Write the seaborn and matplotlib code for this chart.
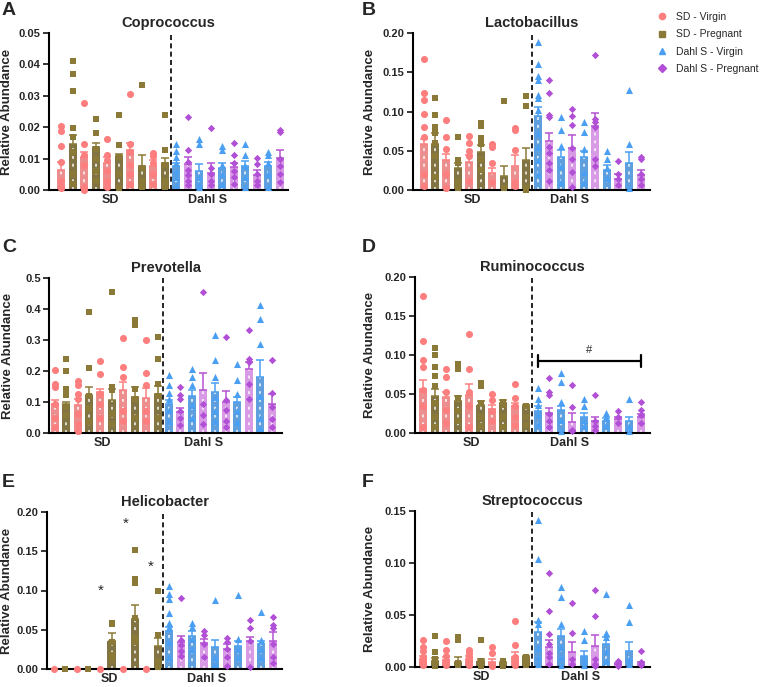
import matplotlib
matplotlib.use("Agg")
import matplotlib.pyplot as plt
from matplotlib.lines import Line2D
import numpy as np
import pandas as pd
import seaborn as sns

# groups / colours
groups = ["SD - Virgin", "SD - Pregnant", "Dahl S - Virgin", "Dahl S - Pregnant"]
bar_groups = [groups[0], groups[1]] * 5 + [groups[2], groups[3]] * 5
group_labels = ["SD", "Dahl S"]

# Coprococcus
cop_mean = [0.0064, 0.0147, 0.0106, 0.0138, 0.0085, 0.0108, 0.0126, 0.0078, 0.0078, 0.0087,
            0.0075, 0.0083, 0.0060, 0.0053, 0.0071, 0.0074, 0.0078, 0.0048, 0.0077, 0.0103]
cop_sem = [0.0025, 0.0028, 0.0016, 0.0011, 0.0021, 0.0006, 0.0023, 0.0034, 0.0018, 0.0014,
           0.0010, 0.0023, 0.0022, 0.0032, 0.0014, 0.0012, 0.0014, 0.0015, 0.0012, 0.0023]
cop_pts = [
    [0.0204, 0.0188, 0.014, 0.009, 0.003, 0.001, 0.0005],
    [0.041, 0.037, 0.0314, 0.0197, 0.017, 0.012, 0.005, 0.002],
    [0.0277, 0.0145, 0.011, 0.008, 0.001, 0.0],
    [0.0225, 0.0183, 0.013, 0.01, 0.006, 0.003],
    [0.0163, 0.011, 0.0096, 0.006, 0.003, 0.001],
    [0.0238, 0.0142, 0.0105, 0.005, 0.0005],
    [0.0306, 0.0148, 0.012, 0.008, 0.005, 0.002],
    [0.0335, 0.007, 0.003, 0.001],
    [0.0119, 0.0108, 0.0085, 0.005, 0.002],
    [0.024, 0.0128, 0.008, 0.003, 0.001],
    [0.0146, 0.0124, 0.0106, 0.0085, 0.006, 0.004, 0.0015],
    [0.0232, 0.0128, 0.009, 0.0065, 0.0048, 0.003, 0.0015],
    [0.0162, 0.0147, 0.004, 0.002, 0.001],
    [0.0196, 0.007, 0.005, 0.003, 0.0015],
    [0.0141, 0.0128, 0.008, 0.005, 0.002],
    [0.0149, 0.0112, 0.0085, 0.006, 0.004, 0.002],
    [0.0148, 0.011, 0.0075, 0.004, 0.001],
    [0.0103, 0.0083, 0.005, 0.003, 0.0015],
    [0.0122, 0.0113, 0.0085, 0.005, 0.001],
    [0.019, 0.0184, 0.01, 0.0075, 0.005, 0.0025],
]

# Lactobacillus
lac_mean = [0.0587, 0.059, 0.038, 0.028, 0.036, 0.049, 0.022, 0.018, 0.031, 0.038,
            0.094, 0.062, 0.0425, 0.054, 0.042, 0.081, 0.026, 0.0145, 0.035, 0.019]
lac_sem = [0.006, 0.013, 0.008, 0.007, 0.009, 0.008, 0.006, 0.013, 0.013, 0.016,
           0.012, 0.010, 0.009, 0.016, 0.008, 0.017, 0.006, 0.0055, 0.014, 0.006]
lac_pts = [
    [0.167, 0.123, 0.115, 0.097, 0.08, 0.067, 0.02, 0.005],
    [0.117, 0.096, 0.08, 0.072, 0.06, 0.043, 0.017],
    [0.089, 0.067, 0.052, 0.02, 0.003],
    [0.067, 0.038, 0.035, 0.01, 0.002],
    [0.069, 0.06, 0.05, 0.043, 0.012],
    [0.085, 0.081, 0.066, 0.059, 0.04, 0.025],
    [0.058, 0.055, 0.035, 0.01],
    [0.113, 0.003, 0.002],
    [0.079, 0.077, 0.051, 0.01, 0.005],
    [0.12, 0.107, 0.002, 0.0],
    [0.188, 0.16, 0.145, 0.14, 0.121, 0.117, 0.102, 0.072, 0.055, 0.038, 0.02],
    [0.14, 0.123, 0.096, 0.093, 0.055, 0.047, 0.035, 0.025, 0.011],
    [0.093, 0.076, 0.056, 0.03, 0.01],
    [0.103, 0.094, 0.083, 0.054, 0.04, 0.023, 0.004],
    [0.086, 0.074, 0.052, 0.023, 0.01],
    [0.172, 0.091, 0.086, 0.08, 0.04, 0.03],
    [0.05, 0.039, 0.028, 0.015],
    [0.037, 0.02, 0.014, 0.006],
    [0.127, 0.059, 0.002],
    [0.042, 0.039, 0.02, 0.014, 0.006],
]

# Prevotella
pre_mean = [0.095, 0.095, 0.09, 0.122, 0.133, 0.108, 0.138, 0.116, 0.114, 0.125,
            0.095, 0.068, 0.118, 0.14, 0.133, 0.1, 0.1, 0.208, 0.18, 0.092]
pre_sem = [0.012, 0.006, 0.02, 0.026, 0.008, 0.035, 0.027, 0.032, 0.03, 0.027,
           0.01, 0.014, 0.02, 0.055, 0.027, 0.037, 0.015, 0.021, 0.055, 0.035]
pre_pts = [
    [0.204, 0.159, 0.15, 0.095, 0.05, 0.02],
    [0.24, 0.2, 0.143, 0.121, 0.085, 0.057],
    [0.168, 0.154, 0.127, 0.11, 0.06, 0.03, 0.005],
    [0.389, 0.21, 0.12, 0.08, 0.035],
    [0.231, 0.189, 0.127, 0.095, 0.05],
    [0.455, 0.148, 0.14, 0.06, 0.03],
    [0.305, 0.213, 0.181, 0.07, 0.04],
    [0.363, 0.348, 0.143, 0.11, 0.05],
    [0.301, 0.193, 0.154, 0.07, 0.04],
    [0.309, 0.239, 0.159, 0.12, 0.05],
    [0.186, 0.155, 0.13, 0.11, 0.075, 0.04],
    [0.149, 0.122, 0.11, 0.07, 0.05, 0.025],
    [0.208, 0.18, 0.154, 0.09, 0.05],
    [0.456, 0.095, 0.057, 0.03],
    [0.316, 0.236, 0.18, 0.115, 0.07, 0.04],
    [0.31, 0.105, 0.075, 0.04, 0.02],
    [0.222, 0.17, 0.125, 0.07, 0.035],
    [0.331, 0.24, 0.229, 0.157, 0.11],
    [0.413, 0.369, 0.286, 0.12, 0.05, 0.015],
    [0.236, 0.13, 0.085, 0.045, 0.02],
]

# Ruminococcus
rum_mean = [0.056, 0.047, 0.046, 0.041, 0.049, 0.036, 0.031, 0.038, 0.034, 0.034,
            0.028, 0.026, 0.029, 0.0137, 0.021, 0.016, 0.016, 0.018, 0.016, 0.021]
rum_sem = [0.012, 0.009, 0.006, 0.006, 0.014, 0.005, 0.005, 0.004, 0.005, 0.002,
           0.006, 0.006, 0.006, 0.012, 0.005, 0.005, 0.003, 0.003, 0.004, 0.004]
rum_pts = [
    [0.176, 0.118, 0.093, 0.084, 0.055, 0.035, 0.008],
    [0.109, 0.1, 0.085, 0.073, 0.06, 0.038, 0.02, 0.008],
    [0.082, 0.072, 0.052, 0.03, 0.013],
    [0.089, 0.082, 0.045, 0.028, 0.015],
    [0.127, 0.082, 0.053, 0.035, 0.008],
    [0.064, 0.06, 0.038, 0.021, 0.009],
    [0.05, 0.042, 0.028, 0.015],
    [0.04, 0.036, 0.02, 0.008],
    [0.063, 0.045, 0.035, 0.02, 0.01],
    [0.035, 0.034, 0.02, 0.01],
    [0.058, 0.043, 0.036, 0.025, 0.012],
    [0.07, 0.053, 0.049, 0.025, 0.015, 0.008],
    [0.077, 0.066, 0.04, 0.017, 0.002],
    [0.062, 0.033, 0.004, 0.002],
    [0.043, 0.034, 0.017, 0.009],
    [0.049, 0.015, 0.009, 0.004],
    [0.026, 0.021, 0.01],
    [0.028, 0.02, 0.013],
    [0.043, 0.009, 0.002],
    [0.04, 0.03, 0.023, 0.013],
]

# Helicobacter
hel_mean = [0, 0, 0, 0, 0, 0.036, 0, 0.064, 0, 0.029,
            0.048, 0.034, 0.042, 0.033, 0.028, 0.025, 0.029, 0.036, 0.032, 0.036]
hel_sem = [0, 0, 0, 0, 0, 0.010, 0, 0.018, 0, 0.010,
           0.006, 0.008, 0.006, 0.005, 0.009, 0.007, 0.007, 0.005, 0.004, 0.011]
hel_pts = [
    [0.0], [0.0], [0.0], [0.0], [0.0],
    [0.059, 0.057, 0.034, 0.018, 0.012],
    [0.0],
    [0.151, 0.115, 0.11, 0.065, 0.04, 0.035],
    [0.0],
    [0.099, 0.043, 0.01, 0.002],
    [0.106, 0.095, 0.089, 0.071, 0.058, 0.053, 0.034, 0.015],
    [0.091, 0.037, 0.03, 0.023, 0.017],
    [0.059, 0.053, 0.038, 0.025],
    [0.048, 0.043, 0.032, 0.015],
    [0.088, 0.015, 0.007],
    [0.04, 0.034, 0.025, 0.015, 0.004],
    [0.094, 0.038, 0.025, 0.015],
    [0.062, 0.052, 0.036, 0.002],
    [0.073, 0.037, 0.025, 0.015],
    [0.066, 0.056, 0.052, 0.032, 0.015, 0.008],
]
hel_stars_x = [4.1, 6.2, 8.4]
hel_stars_y = [0.10, 0.185, 0.13]

# Streptococcus
str_mean = [0.008, 0.0058, 0.0064, 0.005, 0.008, 0.0058, 0.0048, 0.004, 0.0096, 0.0096,
            0.034, 0.019, 0.03, 0.0145, 0.0106, 0.02, 0.022, 0.003, 0.0155, 0.003]
str_sem = [0.003, 0.003, 0.003, 0.0046, 0.003, 0.002, 0.0032, 0.001, 0.0044, 0.001,
           0.009, 0.007, 0.007, 0.0095, 0.005, 0.011, 0.007, 0.001, 0.0085, 0.002]
str_pts = [
    [0.026, 0.019, 0.015, 0.01, 0.005, 0.002],
    [0.03, 0.014, 0.008, 0.003, 0.001],
    [0.025, 0.016, 0.011, 0.006, 0.002],
    [0.029, 0.026, 0.004, 0.002],
    [0.016, 0.013, 0.01, 0.006, 0.002],
    [0.026, 0.006, 0.003, 0.001],
    [0.019, 0.013, 0.003, 0.001],
    [0.006, 0.003, 0.001],
    [0.044, 0.021, 0.01, 0.005, 0.002],
    [0.01, 0.007, 0.002],
    [0.141, 0.104, 0.045, 0.041, 0.018, 0.01, 0.003],
    [0.09, 0.054, 0.032, 0.022, 0.013, 0.01, 0.003],
    [0.077, 0.067, 0.041, 0.019, 0.01, 0.002],
    [0.062, 0.033, 0.008, 0.003],
    [0.035, 0.026, 0.01, 0.005, 0.002],
    [0.074, 0.049, 0.008, 0.003, 0.001],
    [0.07, 0.033, 0.029, 0.015, 0.006],
    [0.006, 0.003, 0.001],
    [0.06, 0.043, 0.008, 0.003],
    [0.015, 0.005, 0.002],
]

sns.set_style("white")
plt.rcParams['font.family'] = ['Liberation Sans', 'DejaVu Sans']

bar_colors = {"SD - Virgin": "#FC7E7E", "SD - Pregnant": "#8B7A37",
              "Dahl S - Virgin": "#4A9FF2", "Dahl S - Pregnant": "#E08DF2"}
err_colors = {"SD - Virgin": "#FC7E7E", "SD - Pregnant": "#8B7A37",
              "Dahl S - Virgin": "#4A9FF2", "Dahl S - Pregnant": "#B452D2"}
dot_colors = {"SD - Virgin": "#FC7E7E", "SD - Pregnant": "#8B7A37",
              "Dahl S - Virgin": "#4A9FF2", "Dahl S - Pregnant": "#B150D6"}
markers = {"SD - Virgin": "o", "SD - Pregnant": "s",
           "Dahl S - Virgin": "^", "Dahl S - Pregnant": "D"}
msize = {"SD - Virgin": 26, "SD - Pregnant": 22,
         "Dahl S - Virgin": 26, "Dahl S - Pregnant": 14}

W, H = 760, 687
fig = plt.figure(figsize=(W / 100, H / 100), dpi=100)


def px_axes(l, t, r, b):
    return fig.add_axes([l / W, 1 - b / H, (r - l) / W, (b - t) / H])


def panel(box, title, means, sems, pts, ymax, ystep, fmt, xlim, lab_x, ylab_px):
    ax = px_axes(*box)
    bars = pd.DataFrame({"pos": np.arange(20), "mean": means, "group": bar_groups})
    sns.barplot(data=bars, x="pos", y="mean", hue="group", palette=bar_colors,
                native_scale=True, dodge=False, width=0.7, errorbar=None,
                legend=False, linewidth=0, ax=ax, zorder=1)
    # faint white dashes in the middle of each bar
    ax.vlines(bars["pos"], 0, bars["mean"], colors="white", lw=1.4,
              linestyles=(0, (1.5, 2.5)), alpha=0.75, zorder=1.5)
    for i in range(20):
        if sems[i] > 0:
            ax.errorbar(i, means[i], yerr=[[0], [sems[i]]], fmt="none",
                        ecolor=err_colors[bar_groups[i]], elinewidth=1.1,
                        capsize=2.6, capthick=1.1, zorder=2)
    rows = [(i, v, bar_groups[i]) for i in range(20) for v in pts[i]]
    dots = pd.DataFrame(rows, columns=["pos", "val", "group"])
    for g in groups:
        sub = dots[dots["group"] == g]
        sns.scatterplot(data=sub, x="pos", y="val", color=dot_colors[g],
                        marker=markers[g], s=msize[g], linewidth=0, ax=ax,
                        zorder=3, legend=False)
    for c in ax.collections:
        c.set_clip_on(False)
    ax.axvline(9.5, color="black", ls=(0, (3, 2)), lw=1.2, zorder=4)
    ax.set_xlim(*xlim)
    ax.set_ylim(0, ymax)
    ticks = np.arange(0, ymax + ystep / 2, ystep)
    ax.set_yticks(ticks)
    ax.set_yticklabels([fmt.format(t) for t in ticks], fontweight="bold", fontsize=8)
    ax.set_xticks(lab_x)
    ax.set_xticklabels(group_labels, fontweight="bold", fontsize=9)
    ax.tick_params(axis="x", length=0, pad=3)
    ax.tick_params(axis="y", length=4, width=1.3, pad=2, direction="out", left=True)
    ax.set_xlabel("")
    ax.set_ylabel("Relative Abundance", fontweight="bold", fontsize=9.5)
    ax.yaxis.set_label_coords((ylab_px - box[0]) / (box[2] - box[0]), 0.5)
    ax.set_title(title, fontweight="bold", fontsize=10.5, pad=4)
    sns.despine(ax=ax)
    for s in ["left", "bottom"]:
        ax.spines[s].set_linewidth(1.5)
        ax.spines[s].set_color("black")
    return ax


axA = panel((49, 33, 288, 190), "Coprococcus", cop_mean, cop_sem, cop_pts,
            0.05, 0.01, "{:.2f}", (-1.05, 19.7), [4.26, 12.7], 13)
axB = panel((413, 33, 650, 190), "Lactobacillus", lac_mean, lac_sem, lac_pts,
            0.20, 0.05, "{:.2f}", (-0.92, 19.8), [4.25, 12.8], 376)
axC = panel((49, 278, 282, 433), "Prevotella", pre_mean, pre_sem, pre_pts,
            0.5, 0.1, "{:.1f}", (-0.5, 19.9), [4.2, 13.0], 14)
axD = panel((415, 277, 650, 433), "Ruminococcus", rum_mean, rum_sem, rum_pts,
            0.20, 0.05, "{:.2f}", (-0.72, 19.8), [4.2, 12.8], 376)
axE = panel((47, 512, 282, 669), "Helicobacter", hel_mean, hel_sem, hel_pts,
            0.20, 0.05, "{:.2f}", (-0.6, 19.8), [4.8, 13.25], 13)
axF = panel((415, 511, 650, 667), "Streptococcus", str_mean, str_sem, str_pts,
            0.15, 0.05, "{:.2f}", (-0.72, 19.8), [5.1, 13.7], 376)

# significance marks
axD.plot([10, 19], [0.092, 0.092], color="black", lw=1.6)
axD.plot([10, 10], [0.084, 0.100], color="black", lw=1.6)
axD.plot([19, 19], [0.084, 0.100], color="black", lw=1.6)
axD.text(14.5, 0.107, "#", ha="center", va="center", fontsize=8)
for sx, sy in zip(hel_stars_x, hel_stars_y):
    axE.text(sx, sy, "*", ha="center", va="center", fontsize=11)

# panel letters
for letter, (x, y) in zip("ABCDEF", [(2, 2), (362, 2), (2, 239), (362, 239), (2, 474), (362, 474)]):
    fig.text(x / W, 1 - y / H, letter, fontsize=14, fontweight="bold", va="top", ha="left")

handles = [Line2D([], [], ls="", marker=markers[g], color=dot_colors[g],
                  markersize=4.5 if g != groups[3] else 3.6) for g in groups]
fig.legend(handles, groups, loc="upper left", bbox_to_anchor=(657 / W, 1 - 12 / H),
           frameon=False, fontsize=7.5, handlelength=1.0, handletextpad=0.85,
           labelspacing=0.7, borderpad=0, borderaxespad=0)

fig.savefig("out.png", dpi=100)
